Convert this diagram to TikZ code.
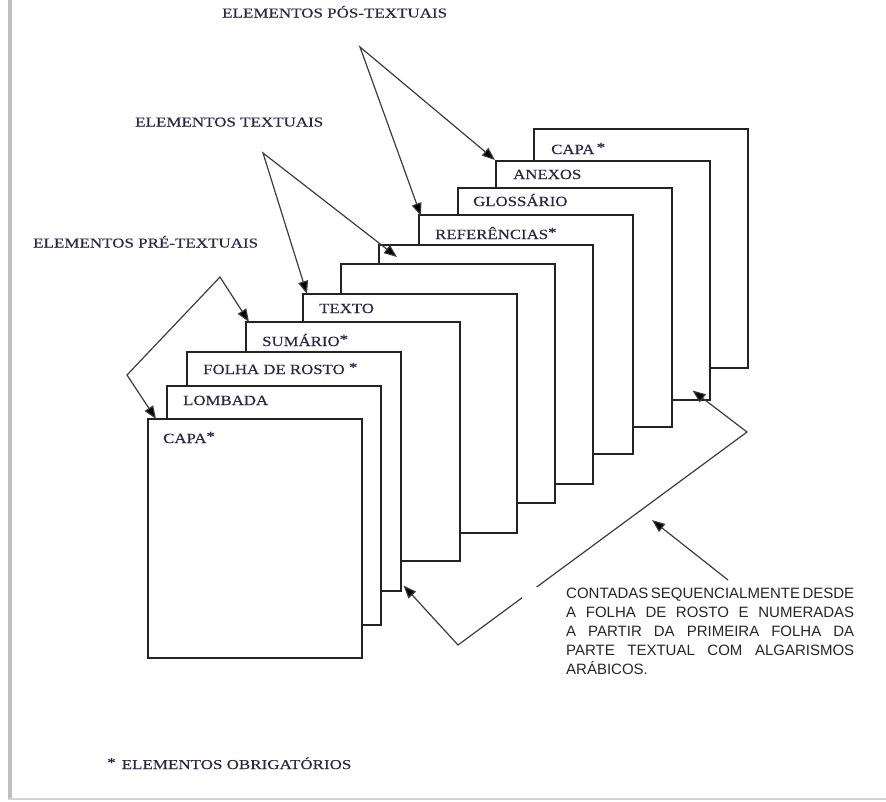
\documentclass[tikz,border=0pt]{standalone}
\usepackage{fontspec}
\setmainfont{Liberation Serif}
\newfontfamily\lblfont[FakeStretch=1.2,FakeBold=0.3]{Liberation Serif}
\newfontfamily\hdrfont[FakeStretch=1.25,FakeBold=0.3]{Liberation Serif}
\newfontfamily\notefont{Liberation Sans}
\usetikzlibrary{arrows.meta,calc}
\definecolor{lbl}{RGB}{40,40,70}
\definecolor{ln}{RGB}{35,35,35}
\definecolor{arw}{RGB}{60,60,60}
\newcommand{\oast}{\raisebox{2pt}{*}}
\begin{document}
\begin{tikzpicture}[x=1pt,y=-1pt,
  sheet/.style={draw=ln, line width=1.5pt, fill=white, minimum width=214pt,
    minimum height=239pt, inner sep=0pt, anchor=north west},
  tab/.style={font=\lblfont\fontsize{14}{16}\selectfont, text=lbl, anchor=base west, inner sep=0pt},
  hdr/.style={font=\hdrfont\fontsize{13.6}{16}\selectfont, text=lbl, anchor=base west, inner sep=0pt},
  conn2/.style={draw=arw, line width=1.2pt, line join=miter,
    {Triangle[length=13pt,width=10pt,fill=black]}-{Triangle[length=13pt,width=10pt,fill=black]}},
  conn/.style={draw=arw, line width=1.2pt, -{Triangle[length=13pt,width=10pt,fill=black]}},
]
\useasboundingbox (0,0) rectangle (886,801);
% page frame
\draw[gray!50, line width=4pt] (9.5,0) -- (9.5,799);
\draw[gray!35, line width=2pt] (8,798.5) -- (886,798.5);

% sheets, back to front
\node[sheet] (s11) at (533,128) {};
\node[sheet] (s10) at (495,160) {};
\node[sheet] (s9)  at (457,187) {};
\node[sheet] (s8)  at (418,214) {};
\node[sheet] (s7)  at (378,244) {};
\node[sheet] (s6)  at (340,263) {};
\node[sheet] (s5)  at (302,293) {};
\node[sheet] (s4)  at (245,321) {};
\node[sheet] (s3)  at (186,351) {};
\node[sheet] (s2)  at (166,385) {};
\node[sheet] (s1)  at (147,418) {};

% sheet labels
\node[tab] (l11) at ($(s11.north west)+(18,26)$) {CAPA\,\oast};
\node[tab] (l10) at ($(s10.north west)+(18,19)$) {ANEXOS};
\node[tab] (l9)  at ($(s9.north west)+(16,19)$)  {GLOSSÁRIO};
\node[tab] (l8)  at ($(s8.north west)+(17,25)$)  {REFERÊNCIAS\oast};
\node[tab] (l5)  at ($(s5.north west)+(17,20)$)  {TEXTO};
\node[tab] (l4)  at ($(s4.north west)+(17,25)$)  {SUMÁRIO\oast};
\node[tab] (l3)  at ($(s3.north west)+(17,23)$)  {FOLHA DE ROSTO \oast};
\node[tab] (l2)  at ($(s2.north west)+(17,20)$)  {LOMBADA};
\node[tab] (l1)  at ($(s1.north west)+(16,25)$)  {CAPA\oast};

% group headers
\node[hdr] (hpos) at (222,17.5)  {ELEMENTOS PÓS-TEXTUAIS};
\node[hdr] (htex) at (135,126.5) {ELEMENTOS TEXTUAIS};
\node[hdr] (hpre) at (33,247.5)  {ELEMENTOS PRÉ-TEXTUAIS};
\node[hdr] (hobr) at (107,769) {\oast\hspace{6pt}ELEMENTOS OBRIGATÓRIOS};

% bracket arrows
\coordinate (prelf) at (127,375);
\coordinate (prepk) at (220,277);
\draw[conn2] ($(s1.north west)+(9,1)$) -- (prelf) -- (prepk) -- ($(s4.north west)+(4,1)$);

\coordinate (txpk) at (263,153);
\draw[conn2] ($(s5.north west)+(5,1)$) -- (txpk) -- ($(s7.north west)+(19,13)$);

\coordinate (pospk) at (360,47);
\draw[conn2] ($(s8.north west)+(3,2)$) -- (pospk) -- (s10.north west);

\coordinate (vbot) at (458,645);
\coordinate (vrt) at (747,432);
\draw[conn2] ($(s3.south east)+(2,-6)$) -- (vbot) -- (vrt) -- ($(s10.south east)+(-18,-10)$);

\coordinate (notetail) at (728,580);
\coordinate (notetip) at (652,520);
\draw[conn] (notetail) -- (notetip);

% white area behind the note
\fill[white] (522,587) rectangle (880,692);

\node[anchor=base west, inner sep=0pt, font=\notefont\fontsize{15}{19}\selectfont, text=black!85] (note) at (566,598)
 {\parbox[t]{288pt}{%
  \hbox to 288pt{CONTADAS\hskip 1.5pt plus 1fil SEQUENCIALMENTE\hskip 1.5pt plus 1fil DESDE}
  \hbox to 288pt{A\hfill FOLHA\hfill DE\hfill ROSTO\hfill E\hfill NUMERADAS}
  \hbox to 288pt{A\hfill PARTIR\hfill DA\hfill PRIMEIRA\hfill FOLHA\hfill DA}
  \hbox to 288pt{PARTE\hfill TEXTUAL\hfill COM\hfill ALGARISMOS}
  \hbox{ARÁBICOS.}}};
\end{tikzpicture}
\end{document}
